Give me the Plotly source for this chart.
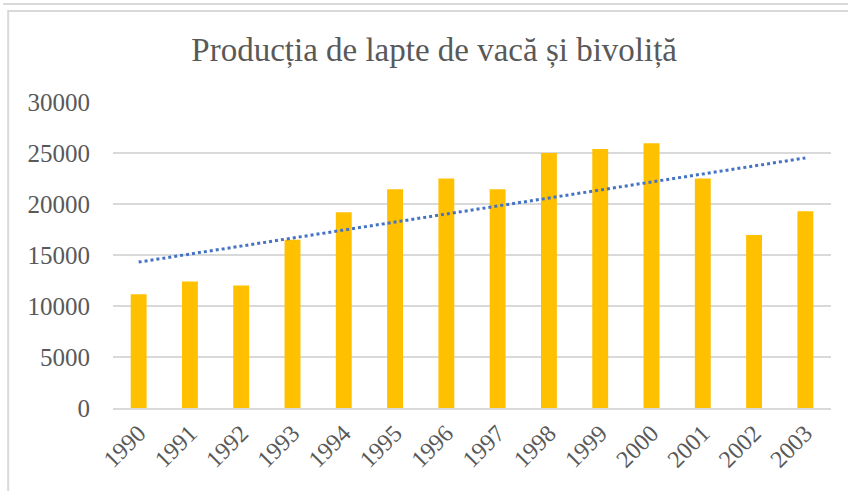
import numpy as np
import plotly.graph_objects as go

# date
years = ["1990", "1991", "1992", "1993", "1994", "1995", "1996",
         "1997", "1998", "1999", "2000", "2001", "2002", "2003"]
production = [11150, 12400, 12000, 16500, 19200, 21450, 22500,
              21450, 25000, 25400, 25950, 22500, 16950, 19300]
y_ticks = [0, 5000, 10000, 15000, 20000, 25000, 30000]
y_labels = [str(v) for v in y_ticks]

# linie de tendinta liniara (ca in Excel)
idx = np.arange(len(years))
slope, intercept = np.polyfit(idx, production, 1)
trend = slope * idx + intercept

font = "Liberation Serif"
grey = "#595959"

fig = go.Figure()
fig.add_trace(go.Bar(x=years, y=production, marker=dict(color="#FFC000", line=dict(width=0)),
                     name="Productie"))
fig.add_trace(go.Scatter(x=years, y=trend, mode="lines",
                         line=dict(color="#4472C4", width=3, dash="dot"), name="Tendinta"))

fig.update_layout(
    width=848, height=491,
    margin=dict(l=113, r=17, t=102, b=83),
    paper_bgcolor="white", plot_bgcolor="white",
    showlegend=False,
    bargap=0.69,
    title=dict(text="Producția de lapte de vacă și bivoliță", x=0.512, xanchor="center",
               y=0.9, yanchor="middle", font=dict(family=font, size=33, color=grey)),
    font=dict(family=font, color=grey),
)
fig.update_yaxes(range=[0, 30000], tickvals=y_ticks, ticktext=y_labels, showgrid=True,
                 gridcolor="#D9D9D9", gridwidth=1.5, zeroline=False, showline=False,
                 tickfont=dict(family=font, size=25, color=grey), ticklabelstandoff=22)
fig.update_xaxes(tickangle=-45, showline=True, linecolor="#D9D9D9", linewidth=1.5,
                 tickfont=dict(family=font, size=24, color=grey))

# chenarul graficului
fig.add_shape(type="rect", xref="paper", yref="paper", x0=-0.146, x1=1.05, y0=-0.4, y1=1.297,
              line=dict(color="#D9D9D9", width=2), layer="below")
fig.add_shape(type="line", xref="paper", yref="paper", x0=-0.153, x1=1.05, y0=1.32, y1=1.32,
              line=dict(color="#D9D9D9", width=2))

fig.write_html("out.html", config={"displayModeBar": False},
               post_script="document.body.style.margin='0';")
